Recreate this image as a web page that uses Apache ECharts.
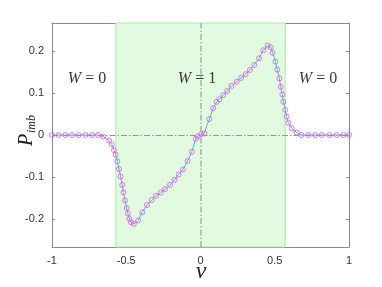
<!DOCTYPE html>
<html>
<head>
<meta charset="utf-8">
<script src="https://cdn.jsdelivr.net/npm/echarts@6/dist/echarts.min.js"></script>
<style>
  html, body { margin: 0; padding: 0; background: #fff; }
  #chart { width: 382px; height: 287px; }
</style>
</head>
<body>
<div id="chart"></div>
<script>
// values
const vValues = [
  -1.0, -0.955, -0.91, -0.865, -0.82, -0.775, -0.73, -0.69,
  -0.655, -0.615, -0.598, -0.583, -0.571, -0.56, -0.549, -0.538, -0.527, -0.519,
  -0.508, -0.497, -0.489, -0.479, -0.468, -0.449, -0.42, -0.392, -0.36, -0.329,
  -0.3, -0.268, -0.239, -0.205, -0.175, -0.147, -0.118, -0.087, -0.059, -0.032,
  -0.018, 0.005, 0.025, 0.059, 0.086, 0.109, 0.127, 0.154, 0.18, 0.21, 0.244,
  0.273, 0.304, 0.333, 0.362, 0.394, 0.423, 0.452, 0.473, 0.486, 0.504, 0.517,
  0.531, 0.54, 0.551, 0.558, 0.571, 0.58, 0.591, 0.614, 0.648, 0.68,
  0.726, 0.771, 0.816, 0.867, 0.917, 0.962, 1.0
]
const pValues = [
  0, 0, 0, 0, 0, 0, 0, 0,
  -0.004, -0.013, -0.022, -0.036, -0.047, -0.063, -0.081, -0.099, -0.119, -0.137,
  -0.156, -0.174, -0.187, -0.2, -0.208, -0.212, -0.204, -0.184, -0.167, -0.155,
  -0.145, -0.137, -0.129, -0.119, -0.107, -0.094, -0.082, -0.062, -0.04, -0.009,
  -0.003, 0.002, 0.004, 0.038, 0.064, 0.079, 0.085, 0.095, 0.105, 0.117, 0.127,
  0.136, 0.145, 0.155, 0.167, 0.183, 0.202, 0.213, 0.209, 0.196, 0.175, 0.156,
  0.135, 0.115, 0.097, 0.079, 0.06, 0.044, 0.029, 0.016, 0.006, 0,
  0, 0, 0, 0, 0, 0, 0
]
const yTicks = [-0.2, -0.1, 0, 0.1, 0.2]
const regionLabels = ['0', '1', '0']
const regionEdges = [-0.57, 0.57]

const points = vValues.map((v, i) => [v, pValues[i]])

const frame = '#8a8a8a'
const tickFont = { fontFamily: 'Liberation Sans', fontSize: 11, color: '#333' }
const dashDot = [6, 2, 1.5, 2]

const chart = echarts.init(document.getElementById('chart'), null, { renderer: 'canvas' })

const wLabel = (x, n) => ({
  type: 'text',
  x: x, y: 79,
  style: {
    text: '{w|W} = ' + n,
    fontFamily: 'Liberation Serif', fontSize: 16, fill: '#3a3a3a',
    align: 'center', verticalAlign: 'middle',
    rich: { w: { fontFamily: 'Liberation Serif', fontStyle: 'italic', fontSize: 16, color: '#3a3a3a' } }
  },
  z: 10
})

chart.setOption({
  animation: false,
  grid: { left: 52, right: 33, top: 23, bottom: 40 },
  xAxis: [
    {
      type: 'value', min: -1, max: 1, interval: 0.5,
      axisLine: { onZero: false, lineStyle: { color: frame } },
      axisTick: { inside: true, length: 3, lineStyle: { color: frame } },
      axisLabel: Object.assign({ margin: 8 }, tickFont),
      splitLine: { show: false }
    },
    {
      type: 'value', position: 'top', min: -1, max: 1, interval: 0.5,
      axisLine: { onZero: false, lineStyle: { color: frame } },
      axisTick: { inside: true, length: 3, lineStyle: { color: frame } },
      axisLabel: { show: false },
      splitLine: { show: false }
    }
  ],
  yAxis: [
    {
      type: 'value', min: -0.267, max: 0.267,
      axisLine: { show: true, onZero: false, lineStyle: { color: frame } },
      axisTick: { show: true, inside: true, length: 3, customValues: yTicks, lineStyle: { color: frame } },
      axisLabel: Object.assign({ margin: 8, customValues: yTicks }, tickFont),
      splitLine: { show: false }
    },
    {
      type: 'value', position: 'right', min: -0.267, max: 0.267,
      axisLine: { show: true, onZero: false, lineStyle: { color: frame } },
      axisTick: { show: true, inside: true, length: 3, customValues: yTicks, lineStyle: { color: frame } },
      axisLabel: { show: false },
      splitLine: { show: false }
    }
  ],
  series: [
    {
      type: 'line',
      data: points,
      showSymbol: false,
      lineStyle: { color: '#55b6cf', width: 1 },
      z: 3,
      markArea: {
        silent: true,
        itemStyle: { color: '#e2fbe0', borderColor: '#a4eea4', borderWidth: 1 },
        data: [[{ xAxis: regionEdges[0] }, { xAxis: regionEdges[1] }]]
      },
      markLine: {
        silent: true,
        symbol: 'none',
        label: { show: false },
        lineStyle: { color: '#8f9a8f', width: 1, type: dashDot },
        data: [
          { xAxis: 0, lineStyle: { color: '#a3b5a3', width: 1.5 } },
          { yAxis: 0 }
        ]
      }
    },
    {
      type: 'scatter',
      data: points,
      symbol: 'circle',
      symbolSize: 5,
      itemStyle: { color: 'rgba(0,0,0,0)', borderColor: '#e254ea', borderWidth: 1 },
      z: 4
    }
  ],
  graphic: [
    wLabel(87, regionLabels[0]),
    wLabel(197, regionLabels[1]),
    wLabel(318, regionLabels[2]),
    {
      type: 'group',
      x: 27, y: 129,
      rotation: Math.PI / 2,
      children: [
        {
          type: 'text', x: -17, y: 0,
          style: { text: 'P', fontFamily: 'Liberation Serif', fontStyle: 'italic', fontSize: 20, fill: '#222', verticalAlign: 'middle' }
        },
        {
          type: 'text', x: -4, y: 5,
          style: { text: 'imb', fontFamily: 'Liberation Serif', fontStyle: 'italic', fontSize: 12, fill: '#222', verticalAlign: 'middle' }
        }
      ]
    },
    {
      type: 'text', x: 201, y: 272,
      style: { text: 'v', fontFamily: 'Liberation Serif', fontStyle: 'italic', fontSize: 24, fill: '#222', align: 'center', verticalAlign: 'middle' }
    }
  ]
})

window.addEventListener('resize', () => chart.resize())
</script>
</body>
</html>
